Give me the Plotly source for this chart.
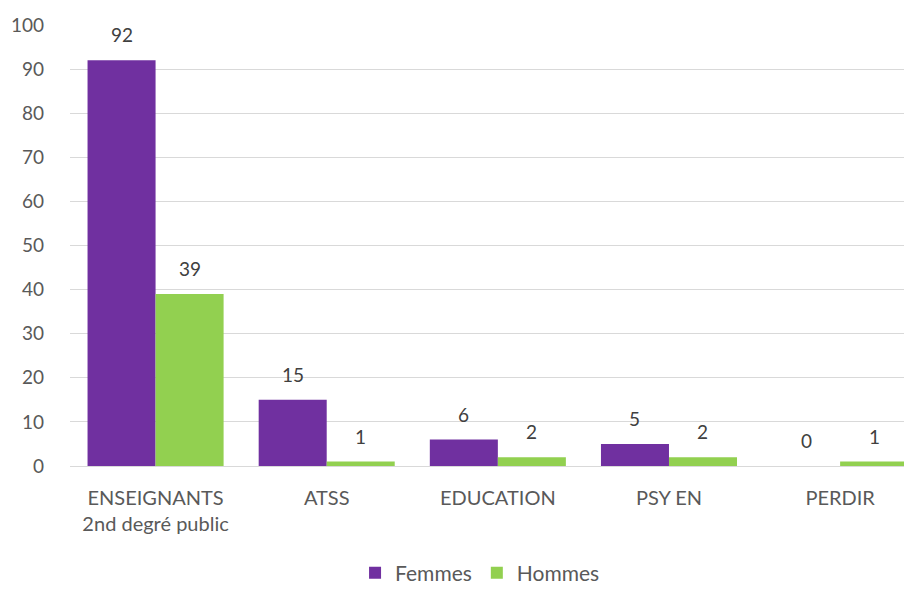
import plotly.graph_objects as go

categories = ["ENSEIGNANTS<br>2nd degré public", "ATSS", "EDUCATION", "PSY EN", "PERDIR"]
femmes = [92, 15, 6, 5, 0]
hommes = [39, 1, 2, 2, 1]
y_ticks = [0, 10, 20, 30, 40, 50, 60, 70, 80, 90, 100]

PURPLE = "#7030A0"
GREEN = "#92D050"
TXT = "#595959"
FONT = "Lato, Carlito, Calibri, sans-serif"

fig = go.Figure()
fig.add_trace(go.Bar(x=categories, y=femmes, name="Femmes", marker_color=PURPLE,
                     marker_line_width=0))
fig.add_trace(go.Bar(x=categories, y=hommes, name="Hommes", marker_color=GREEN,
                     marker_line_width=0))

annotations = []
for vals, shift in ((femmes, -34), (hommes, 34)):
    for c, v in zip(categories, vals):
        annotations.append(dict(x=c, y=v, text=str(v), showarrow=False,
                                xshift=shift, yshift=12, yanchor="bottom",
                                font=dict(size=19, color="#404040", family=FONT)))

# the page body adds an 8px offset, so the figure is 8px smaller on each axis
fig.update_layout(
    width=904, height=582,
    margin=dict(l=62, r=0, t=17, b=124, autoexpand=False),
    paper_bgcolor="white", plot_bgcolor="white",
    barmode="group", bargap=0.205, bargroupgap=0,
    font=dict(family=FONT, size=18, color=TXT),
    annotations=annotations,
    showlegend=True,
    legend=dict(orientation="h", x=0.487, xanchor="center", y=-0.243, yanchor="middle",
                font=dict(size=21, color=TXT), itemwidth=30, traceorder="normal"),
    xaxis=dict(range=[-0.5, 4.42], showgrid=False, showline=False, zeroline=False,
               ticks="", ticklabelstandoff=18, automargin=False,
               tickfont=dict(size=20, color=TXT)),
    yaxis=dict(range=[0, 100], tickvals=y_ticks, showgrid=True, gridcolor="#D9D9D9",
               gridwidth=1, zeroline=True, zerolinecolor="#D9D9D9", zerolinewidth=1,
               showline=False, ticks="", ticklabelstandoff=25, automargin=False,
               tickfont=dict(size=19, color=TXT)),
)

fig.write_html("out.html")
